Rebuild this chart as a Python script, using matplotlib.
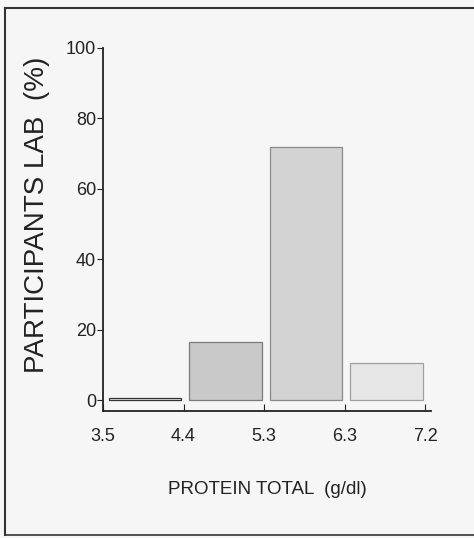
import matplotlib
matplotlib.use('Agg')
import matplotlib.pyplot as plt
from matplotlib.lines import Line2D

# data
bin_edges = ['3.5', '4.4', '5.3', '6.3', '7.2']
percent = [0.7, 16.5, 72, 10.5]
bar_colors = ['#f3f3f3', '#c9c9c9', '#d3d3d3', '#e6e6e6']
edge_colors = ['#333333', '#7a7a7a', '#8a8a8a', '#a0a0a0']

plt.rcParams['font.family'] = ['Liberation Sans', 'DejaVu Sans']

fig = plt.figure(figsize=(4.74, 5.38), dpi=100, facecolor='#f6f6f6')
ax = fig.add_axes([0.2173, 0.236, 0.693, 0.675])
ax.set_facecolor('#f6f6f6')

# bars between the bin edges
for i, (p, c, e) in enumerate(zip(percent, bar_colors, edge_colors)):
    ax.bar(i + 0.52, p, width=0.9, color=c, edgecolor=e, linewidth=0.9)

ax.set_xlim(0, 4.08)
ax.set_ylim(-3.1, 100)
ax.set_xticks(range(len(bin_edges)))
ax.set_xticklabels(bin_edges, fontsize=13)
ax.set_yticks([0, 20, 40, 60, 80, 100])
ax.set_yticklabels(['0', '20', '40', '60', '80', '100'], fontsize=13)
ax.tick_params(axis='x', direction='in', length=5, width=0.8, pad=12, colors='#222222')
ax.tick_params(axis='y', direction='out', length=4, width=0.8, pad=1, colors='#222222')

for s in ['top', 'right']:
    ax.spines[s].set_visible(False)
for s in ['left', 'bottom']:
    ax.spines[s].set_linewidth(1.3)
    ax.spines[s].set_color('#222222')

ax.set_xlabel('PROTEIN TOTAL  (g/dl)', fontsize=13.5, labelpad=26, color='#222222')
ax.set_ylabel('PARTICIPANTS LAB  (%)', fontsize=20, color='#222222')
ax.yaxis.set_label_coords(-0.16, 0.54)

# page frame from the scan
fig.add_artist(Line2D([0.011, 0.011], [0.005, 0.985], color='#333333', lw=1.5, transform=fig.transFigure))
fig.add_artist(Line2D([0.011, 1.0], [0.985, 0.985], color='#333333', lw=1.5, transform=fig.transFigure))
fig.add_artist(Line2D([0.011, 1.0], [0.006, 0.006], color='#333333', lw=1.2, transform=fig.transFigure))

plt.savefig('out.png', dpi=100, facecolor=fig.get_facecolor())
